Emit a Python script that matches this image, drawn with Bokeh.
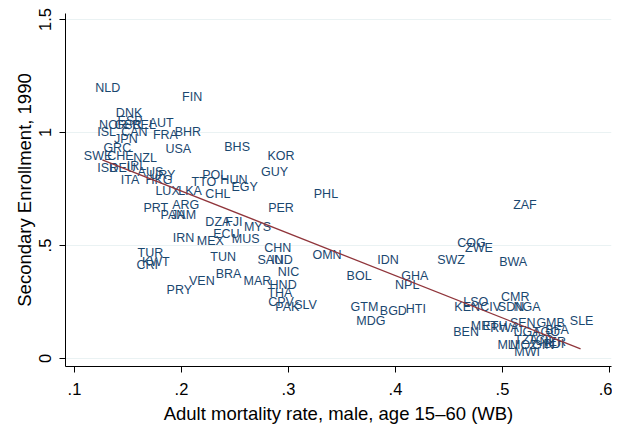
from bokeh.plotting import figure
from bokeh.models import ColumnDataSource, FixedTicker, Range1d
from bokeh.core.properties import value
from bokeh.embed import file_html
from bokeh.resources import INLINE

codes = ["NLD","FIN","DNK","ESP","NOR","GBR","BEL","AUT","ISL","CAN","FRA","BHR","JPN","USA","BHS","GRC",
         "SWE","CHE","NZL","ISR","DEU","IRL","AUS","URY","HKG","ITA","POL","TTO","HUN","EGY","CHL","LKA",
         "LUX","KOR","GUY","PHL","PRT","ARG","PAN","JAM","PER","DZA","FJI","MYS","ECU","IRN","MEX","MUS",
         "CHN","TUR","KWT","CRI","TUN","SAU","IND","NIC","BRA","VEN","PRY","MAR","HND","THA","CPV","PAK",
         "SLV","OMN","IDN","SWZ","BOL","GHA","NPL","GTM","BGD","HTI","MDG","ZAF","COG","ZWE","BWA","CMR",
         "LSO","KEN","CIV","SDN","NGA","BEN","MRT","ETH","RWA","SEN","GMB","SLE","UGA","TGO","BFA","TZA",
         "TCD","NER","MLI","MOZ","GIN","BDI","MWI"]
mortality = [0.131,0.210,0.151,0.152,0.136,0.150,0.165,0.181,0.130,0.156,0.185,0.206,0.148,0.197,0.252,0.140,
             0.122,0.143,0.166,0.131,0.145,0.158,0.171,0.182,0.179,0.152,0.231,0.221,0.249,0.259,0.234,0.208,
             0.187,0.293,0.287,0.335,0.176,0.204,0.192,0.202,0.293,0.234,0.249,0.271,0.242,0.202,0.227,0.260,
             0.290,0.171,0.176,0.168,0.239,0.283,0.294,0.300,0.244,0.219,0.198,0.271,0.295,0.292,0.293,0.299,
             0.316,0.336,0.393,0.452,0.366,0.418,0.411,0.371,0.398,0.419,0.377,0.521,0.471,0.478,0.510,0.512,
             0.475,0.467,0.489,0.508,0.523,0.466,0.483,0.493,0.502,0.519,0.545,0.574,0.523,0.541,0.551,0.522,
             0.536,0.547,0.505,0.520,0.538,0.548,0.523]
enrollment = [1.195,1.155,1.086,1.053,1.035,1.035,1.035,1.040,1.000,1.002,0.991,1.000,0.969,0.929,0.934,0.931,
              0.894,0.894,0.889,0.845,0.845,0.850,0.823,0.814,0.792,0.790,0.814,0.783,0.788,0.757,0.730,0.739,
              0.739,0.894,0.827,0.730,0.668,0.677,0.633,0.633,0.668,0.602,0.602,0.580,0.553,0.535,0.522,0.527,
              0.487,0.469,0.425,0.412,0.447,0.434,0.434,0.381,0.376,0.345,0.305,0.345,0.327,0.292,0.248,0.226,
              0.235,0.456,0.438,0.438,0.363,0.363,0.327,0.226,0.208,0.217,0.164,0.677,0.513,0.487,0.425,0.274,
              0.252,0.230,0.226,0.226,0.226,0.119,0.142,0.142,0.137,0.155,0.155,0.164,0.119,0.119,0.124,0.080,
              0.080,0.075,0.058,0.058,0.058,0.066,0.027]

fit_x = [0.126, 0.573]
fit_y = [0.879, 0.043]

xtick_vals = [0.1, 0.2, 0.3, 0.4, 0.5, 0.6]
xtick_labels = [".1", ".2", ".3", ".4", ".5", ".6"]
ytick_vals = [0, 0.5, 1, 1.5]
ytick_labels = ["0", ".5", "1", "1.5"]

FONT = "Liberation Sans"
NAVY = "#1a476f"
MAROON = "#90353b"

p = figure(width=612, height=431, output_backend="svg", toolbar_location=None,
           x_range=Range1d(0.0916, 0.6019), y_range=Range1d(-0.0354, 1.5265))
p.min_border_left = 65
p.min_border_right = 1
p.min_border_top = 13
p.min_border_bottom = 65
p.outline_line_color = None
p.background_fill_color = "white"
p.border_fill_color = "white"

src = ColumnDataSource(dict(x=mortality, y=enrollment, code=codes))
p.text(x="x", y="y", text="code", source=src, text_align="center", text_baseline="middle",
       text_font=value(FONT), text_font_size="12.5px", text_color=NAVY)
p.line(fit_x, fit_y, line_color=MAROON, line_width=1.3)

p.xgrid.visible = False
p.ygrid.grid_line_color = "#eaf2f3"
p.ygrid.grid_line_width = 1
p.ygrid.ticker = FixedTicker(ticks=ytick_vals)

p.xaxis.ticker = FixedTicker(ticks=xtick_vals)
p.xaxis.major_label_overrides = dict(zip(xtick_vals, xtick_labels))
p.yaxis.ticker = FixedTicker(ticks=ytick_vals)
p.yaxis.major_label_overrides = dict(zip(ytick_vals, ytick_labels))
p.yaxis.major_label_orientation = "vertical"

for ax in (p.xaxis, p.yaxis):
    ax.axis_line_color = "black"
    ax.axis_line_width = 1
    ax.major_tick_line_color = "black"
    ax.major_tick_in = 0
    ax.major_tick_out = 6
    ax.minor_tick_line_color = None
    ax.major_label_text_font = FONT
    ax.major_label_text_font_size = "16.5px"
    ax.major_label_text_color = "black"
    ax.axis_label_text_font = FONT
    ax.axis_label_text_font_size = "18.5px"
    ax.axis_label_text_font_style = "normal"
    ax.axis_label_text_color = "black"

p.xaxis.major_label_standoff = 10
p.xaxis.axis_label_standoff = 5
p.yaxis.major_label_standoff = 8
p.yaxis.axis_label_standoff = 2

p.xaxis.axis_label = "Adult mortality rate, male, age 15\u201360 (WB)"
p.yaxis.axis_label = "Secondary Enrollment, 1990"

open("out.html", "w").write(file_html(p, INLINE))
